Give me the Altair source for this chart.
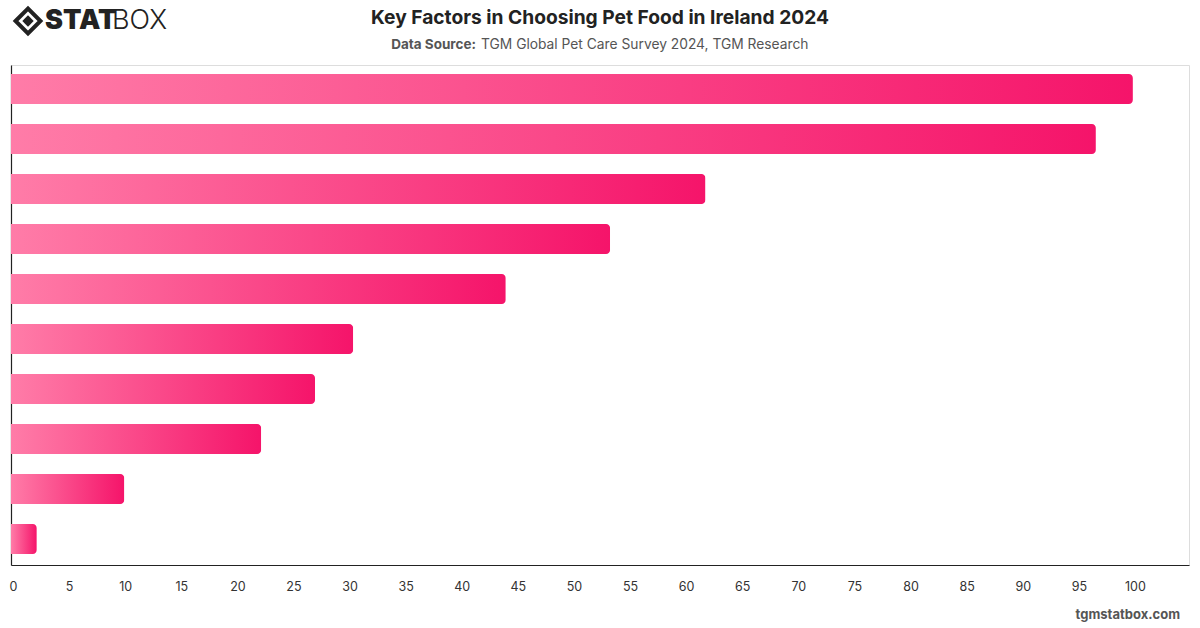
import altair as alt
import pandas as pd

factors = ["Price", "Nutritional value", "Pet's preference", "Quality of ingredients",
           "Brand reputation", "Vet recommendation", "Availability", "Natural / organic",
           "Eco-friendly packaging", "Other"]
values = [100.0, 96.7, 61.9, 53.4, 44.1, 30.5, 27.1, 22.3, 10.1, 2.3]
x_ticks = list(range(0, 105, 5))

title = "Key Factors in Choosing Pet Food in Ireland 2024"
source_label = "Data Source:"
source_text = "TGM Global Pet Care Survey 2024, TGM Research"
footer = "tgmstatbox.com"

df = pd.DataFrame({"factor": factors, "value": values})

FONT = "Inter"
W, H = 1178, 500

bars = alt.Chart(df).mark_bar(
    cornerRadiusEnd=4,
    color=alt.Gradient(
        gradient="linear",
        stops=[alt.GradientStop(color="#FF7CA8", offset=0),
               alt.GradientStop(color="#F5146A", offset=1)],
        x1=0, x2=1, y1=0, y2=0,
    ),
).encode(
    x=alt.X("value:Q", scale=alt.Scale(domain=[0, 105], nice=False),
            axis=alt.Axis(values=x_ticks, title=None, ticks=False, grid=False,
                          labelPadding=15, labelFontSize=12.5, labelColor="#333",
                          labelFont=FONT, domainColor="#222", domainWidth=1.2,
                          labelFlush=False, labelOffset=2)),
    y=alt.Y("factor:N", sort=factors,
            scale=alt.Scale(paddingInner=0.4, paddingOuter=0.2, align=0.45),
            axis=alt.Axis(labels=False, ticks=False, title=None, grid=False,
                          domainColor="#222", domainWidth=1.2)),
)

def txt(text, x, y, size, weight="normal", color="#222", align="left", font=FONT):
    return alt.Chart(pd.DataFrame({"t": [text]})).mark_text(
        align=align, baseline="middle", fontSize=size, fontWeight=weight,
        color=color, font=font,
    ).encode(text="t:N", x=alt.value(x), y=alt.value(y))

title_t = txt(title, 589, -47, 19.2, "bold", "#222", "center")
src_b = txt(source_label, 465, -20, 13.5, "bold", "#555", "right")
src_n = txt(source_text, 470, -20, 13.8, "normal", "#555", "left")
foot = txt(footer, 1169, 550, 13, "bold", "#555", "right")

logo_stat = txt("STAT", 34, -44, 27, 900, "#222", "left")
logo_box = txt("BOX", 101, -44, 27, 300, "#222", "left")

icon_outer = alt.Chart(pd.DataFrame({"a": [1]})).mark_point(
    shape="diamond", size=620, filled=False, strokeWidth=4, color="#222", opacity=1
).encode(x=alt.value(17), y=alt.value(-44))
icon_inner = alt.Chart(pd.DataFrame({"a": [1]})).mark_point(
    shape="diamond", size=130, filled=True, color="#222", opacity=1
).encode(x=alt.value(17), y=alt.value(-44))

chart = alt.layer(
    bars, title_t, src_b, src_n, foot, logo_stat, logo_box, icon_outer, icon_inner
).properties(
    width=W, height=H,
    autosize=alt.AutoSizeParams(type="none"),
    padding={"left": 11, "top": 65, "right": 11, "bottom": 63},
).configure_view(stroke=None).configure(background="white")

chart.save("out.html", embed_options={"renderer": "svg", "actions": False})
